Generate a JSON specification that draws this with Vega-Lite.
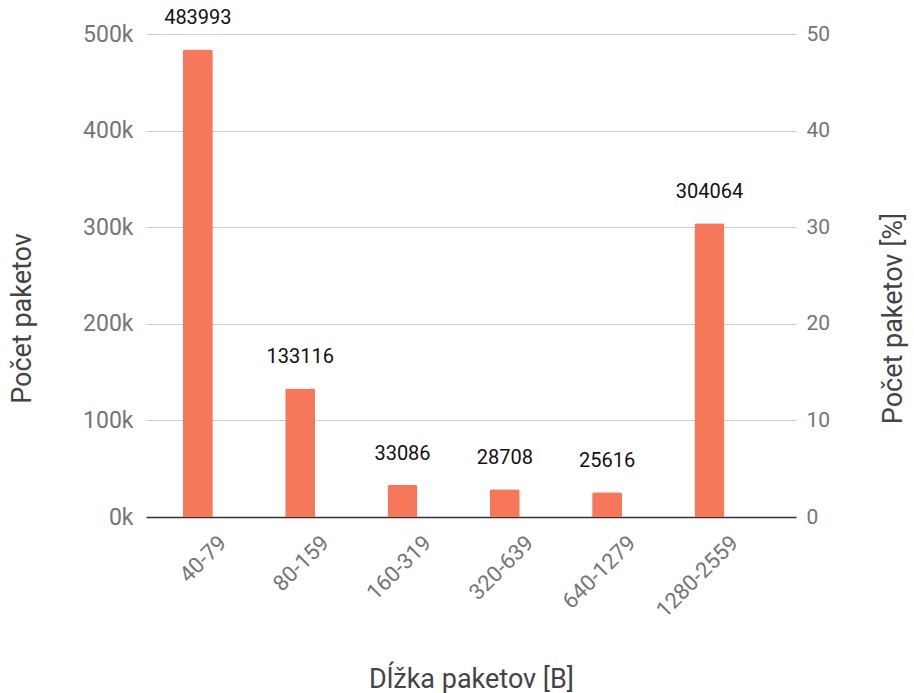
{
  "$schema": "https://vega.github.io/schema/vega-lite/v6.json",
  "autosize": {"type": "none"},
  "padding": {"left": 146, "top": 34, "right": 118, "bottom": 176},
  "width": 650,
  "height": 483,
  "background": "white",
  "config": {
    "font": "Roboto",
    "view": {"stroke": null},
    "axis": {"labelFont": "Roboto", "titleFont": "Roboto"}
  },
  "data": {
    "values": [
      {"dlzka": "40-79", "pocet": 483993, "percent": 47.99},
      {"dlzka": "80-159", "pocet": 133116, "percent": 13.2},
      {"dlzka": "160-319", "pocet": 33086, "percent": 3.28},
      {"dlzka": "320-639", "pocet": 28708, "percent": 2.85},
      {"dlzka": "640-1279", "pocet": 25616, "percent": 2.54},
      {"dlzka": "1280-2559", "pocet": 304064, "percent": 30.15}
    ]
  },
  "encoding": {
    "x": {
      "field": "dlzka",
      "type": "nominal",
      "sort": null,
      "scale": {"paddingInner": 0.707, "paddingOuter": 0.53, "align": 0.34},
      "axis": {
        "title": "Dĺžka paketov [B]",
        "titleFontSize": 27,
        "titleFontWeight": "normal",
        "titleColor": "#444444",
        "titleY": 170,
        "titleX": 325,
        "titleBaseline": "alphabetic",
        "titleAlign": "center",
        "labelAngle": -45,
        "labelAlign": "right",
        "labelBaseline": "middle",
        "labelOffset": 25,
        "labelPadding": 22,
        "labelFontSize": 22,
        "labelColor": "#757575",
        "ticks": false,
        "tickSize": 0,
        "domainColor": "#333333",
        "domainWidth": 1.5,
        "grid": false
      }
    }
  },
  "layer": [
    {
      "mark": {"type": "bar", "color": "#f6775a", "cornerRadiusTopLeft": 2, "cornerRadiusTopRight": 2},
      "encoding": {
        "y": {
          "field": "pocet",
          "type": "quantitative",
          "scale": {"domain": [0, 500000], "nice": false},
          "axis": {
            "title": "Počet paketov",
            "titleFontSize": 27,
            "titleFontWeight": "normal",
            "titleColor": "#444444",
            "titleAngle": -90,
            "titleX": -116,
            "titleY": 284,
            "titleAlign": "center",
            "titleBaseline": "alphabetic",
            "values": [0, 100000, 200000, 300000, 400000, 500000],
            "labelExpr": "datum.value / 1000 + 'k'",
            "labelFontSize": 23,
            "labelColor": "#757575",
            "labelPadding": 13,
            "ticks": false,
            "tickSize": 0,
            "domain": false,
            "grid": true,
            "gridColor": "#cccccc",
            "gridWidth": 1
          }
        }
      }
    },
    {
      "mark": {"type": "text", "baseline": "alphabetic", "dy": -25, "fontSize": 20, "color": "#111111", "font": "Roboto"},
      "encoding": {
        "y": {"field": "pocet", "type": "quantitative", "scale": {"domain": [0, 500000], "nice": false}, "axis": null},
        "text": {"field": "pocet", "type": "quantitative", "format": "d"}
      }
    },
    {
      "mark": {"type": "bar", "opacity": 0},
      "encoding": {
        "y": {
          "field": "percent",
          "type": "quantitative",
          "scale": {"domain": [0, 50], "nice": false},
          "axis": {
            "orient": "right",
            "title": "Počet paketov [%]",
            "titleFontSize": 27,
            "titleFontWeight": "normal",
            "titleColor": "#444444",
            "titleAngle": -90,
            "titleX": 105,
            "titleY": 284,
            "titleAlign": "center",
            "titleBaseline": "alphabetic",
            "values": [0, 10, 20, 30, 40, 50],
            "labelFontSize": 21,
            "labelColor": "#757575",
            "labelPadding": 10,
            "ticks": false,
            "tickSize": 0,
            "domain": false,
            "grid": false
          }
        }
      }
    }
  ],
  "resolve": {"scale": {"y": "independent"}}
}
